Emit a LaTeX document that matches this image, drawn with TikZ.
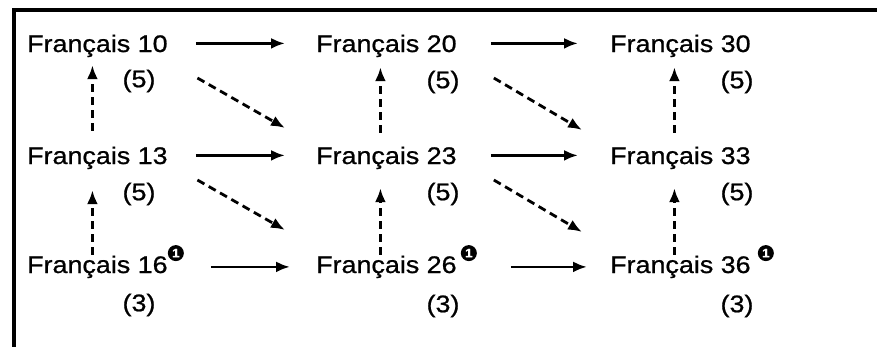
\documentclass[tikz,border=0pt]{standalone}
\usepackage{fontspec}
\setmainfont{Liberation Sans}[FakeStretch=1.12,FakeBold=0.8]
\usetikzlibrary{arrows.meta}
\begin{document}
\begin{tikzpicture}[x=1bp,y=-1bp,
  course/.style={font=\fontsize{24bp}{28bp}\selectfont, inner sep=0pt, text height=17.2bp, text depth=0pt, anchor=base west},
  hours/.style={font=\fontsize{24bp}{28bp}\selectfont, inner sep=0pt},
  fnmark/.style={text=white, inner sep=0pt, font=\fontsize{12bp}{12bp}\selectfont\bfseries},
  seq/.style={-{Latex[length=14bp,width=11bp]}, line width=2.8bp},
  alt/.style={seq, dash pattern=on 8bp off 5bp},
]
\useasboundingbox (0,0) rectangle (877,347);
\draw[line width=3.5bp] (877,10) -- (14,10) -- (14,347);

% course nodes
\node[course] (n10) at (27,52) {Français 10};
\node[course] (n13) at (27,164) {Français 13};
\node[course] (n16) at (27,273) {Français 16};
\node[course] (n20) at (316,52) {Français 20};
\node[course] (n23) at (316,164) {Français 23};
\node[course] (n26) at (316,273) {Français 26};
\node[course] (n30) at (610,52) {Français 30};
\node[course] (n33) at (610,164) {Français 33};
\node[course] (n36) at (610,273) {Français 36};

% footnote marks
\fill ([xshift=8bp,yshift=2.5bp]n16.north east) circle[radius=8bp] node[fnmark] (d16) {1};
\fill ([xshift=12bp,yshift=2.5bp]n26.north east) circle[radius=8bp] node[fnmark] (d26) {1};
\fill ([xshift=15bp,yshift=2.5bp]n36.north east) circle[radius=8bp] node[fnmark] (d36) {1};

% credit labels
\node[hours] (h10) at (139,81) {(5)};
\node[hours] (h13) at (139,194) {(5)};
\node[hours] (h16) at (139,305) {(3)};
\node[hours] (h20) at (443,82) {(5)};
\node[hours] (h23) at (443,194) {(5)};
\node[hours] (h26) at (443,306) {(3)};
\node[hours] (h30) at (737,82) {(5)};
\node[hours] (h33) at (737,194) {(5)};
\node[hours] (h36) at (737,306) {(3)};

% horizontal sequences
\draw[seq, shorten <=28bp, shorten >=31bp] (n10) -- (n20);
\draw[seq, shorten <=28bp, shorten >=31bp] (n13) -- (n23);
\draw[seq, shorten <=34bp, shorten >=32bp] (n20) -- (n30);
\draw[seq, shorten <=34bp, shorten >=32bp] (n23) -- (n33);
\draw[seq] ([xshift=43bp,yshift=-2.5bp]n16.east) -- ([xshift=-26bp,yshift=-2.5bp]n26.west);
\draw[seq] ([xshift=54bp,yshift=-2.5bp]n26.east) -- ([xshift=-23bp,yshift=-2.5bp]n36.west);

% vertical alternatives
\draw[alt] ([xshift=-5bp,yshift=16bp]n13.north) -- ([xshift=-5bp,yshift=-13bp]n10.south);
\draw[alt] ([xshift=-5bp,yshift=1bp]n16.north) -- ([xshift=-5bp,yshift=-26bp]n13.south);
\draw[alt] ([xshift=-6bp,yshift=14bp]n23.north) -- ([xshift=-6bp,yshift=-15bp]n20.south);
\draw[alt] ([xshift=-6bp,yshift=1bp]n26.north) -- ([xshift=-6bp,yshift=-24bp]n23.south);
\draw[alt] ([xshift=-6bp,yshift=14bp]n33.north) -- ([xshift=-6bp,yshift=-15bp]n30.south);
\draw[alt] ([xshift=-6bp,yshift=1bp]n36.north) -- ([xshift=-6bp,yshift=-24bp]n33.south);

% diagonal alternatives
\draw[alt] ([xshift=29.6bp,yshift=-26bp]n10.base east) -- ([xshift=-31bp,yshift=36bp]n23.base west);
\draw[alt] ([xshift=29.6bp,yshift=-16bp]n13.base east) -- ([xshift=-31bp,yshift=43bp]n26.base west);
\draw[alt] ([xshift=37bp,yshift=-26bp]n20.base east) -- ([xshift=-28bp,yshift=34bp]n33.base west);
\draw[alt] ([xshift=37bp,yshift=-16bp]n23.base east) -- ([xshift=-28bp,yshift=41bp]n36.base west);
\end{tikzpicture}
\end{document}
